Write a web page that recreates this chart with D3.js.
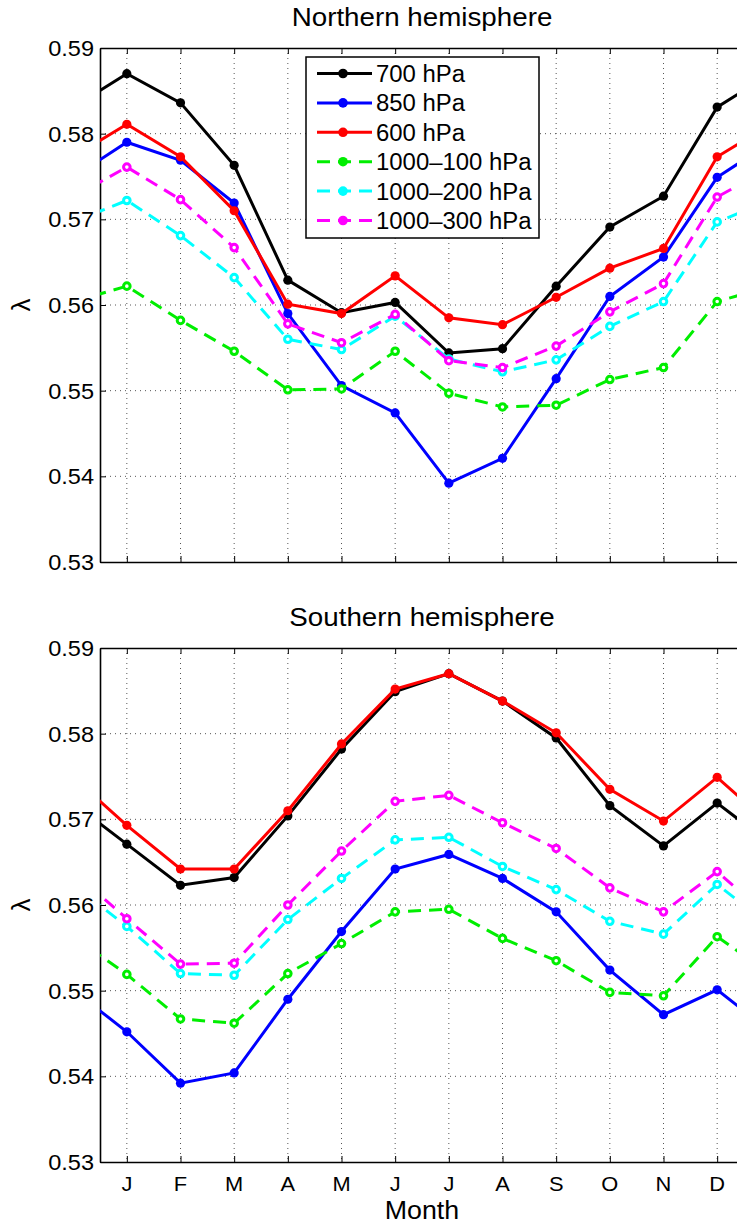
<!DOCTYPE html>
<html>
<head>
<meta charset="utf-8">
<script src="https://cdn.jsdelivr.net/npm/d3@7/dist/d3.min.js"></script>
<style>
  body { margin: 0; background: #fff; }
  svg text { font-family: "Liberation Sans", Arial, sans-serif; fill: #000; }
</style>
</head>
<body>
<div class="chart"></div>
<script>
// month labels
var months = ["J", "F", "M", "A", "M", "J", "J", "A", "S", "O", "N", "D"];
var seriesNames = ["700 hPa", "850 hPa", "600 hPa", "1000\u2013100 hPa", "1000\u2013200 hPa", "1000\u2013300 hPa"];
var yTicks = [0.53, 0.54, 0.55, 0.56, 0.57, 0.58, 0.59];

// Northern hemisphere
var north700 = [0.5870, 0.5836, 0.5763, 0.5629, 0.5591, 0.5603, 0.5544, 0.5549, 0.5622, 0.5691, 0.5727, 0.5831];
var north850 = [0.5790, 0.5769, 0.5719, 0.5590, 0.5506, 0.5474, 0.5392, 0.5421, 0.5514, 0.5610, 0.5656, 0.5749];
var north600 = [0.5811, 0.5773, 0.5710, 0.5601, 0.5590, 0.5634, 0.5585, 0.5577, 0.5609, 0.5643, 0.5666, 0.5773];
var north100 = [0.5622, 0.5582, 0.5546, 0.5501, 0.5502, 0.5546, 0.5497, 0.5481, 0.5483, 0.5513, 0.5527, 0.5604];
var north200 = [0.5722, 0.5681, 0.5632, 0.5560, 0.5548, 0.5587, 0.5537, 0.5522, 0.5536, 0.5575, 0.5604, 0.5697];
var north300 = [0.5761, 0.5723, 0.5667, 0.5578, 0.5556, 0.5589, 0.5535, 0.5527, 0.5552, 0.5592, 0.5625, 0.5726];

// Southern hemisphere
var south700 = [0.5671, 0.5623, 0.5632, 0.5704, 0.5782, 0.5849, 0.5870, 0.5838, 0.5795, 0.5716, 0.5669, 0.5719];
var south850 = [0.5452, 0.5392, 0.5404, 0.5490, 0.5569, 0.5642, 0.5659, 0.5631, 0.5592, 0.5524, 0.5472, 0.5501];
var south600 = [0.5693, 0.5642, 0.5642, 0.5710, 0.5788, 0.5852, 0.5870, 0.5838, 0.5801, 0.5735, 0.5698, 0.5749];
var south100 = [0.5519, 0.5467, 0.5462, 0.5520, 0.5555, 0.5592, 0.5595, 0.5561, 0.5535, 0.5498, 0.5494, 0.5563];
var south200 = [0.5575, 0.5520, 0.5518, 0.5583, 0.5631, 0.5676, 0.5679, 0.5645, 0.5618, 0.5581, 0.5566, 0.5624];
var south300 = [0.5584, 0.5531, 0.5532, 0.5600, 0.5663, 0.5721, 0.5728, 0.5696, 0.5666, 0.5620, 0.5592, 0.5639];

var colors = ["#000000", "#0000ff", "#ff0000", "#00ee00", "#00ffff", "#ff00ff"];
var dashed = [false, false, false, true, true, true];

var width = 737, height = 1226;

var svg = d3.select(".chart")
    .append("svg")
    .attr("width", width)
    .attr("height", height);

// text with a slight horizontal stretch, like the original figure
function addText(sel, x, y, str, size, anchor, sx) {
    return sel.append("text")
        .attr("transform", "translate(" + x + "," + y + ") scale(" + sx + ",1)")
        .attr("text-anchor", anchor)
        .style("font-size", size + "px")
        .text(str);
}

function drawPanel(id, top, title, data, showMonths, showLegend) {
    var left = 100, right = 744, bottom = top + 514;

    var x = d3.scaleLinear().domain([0.5, 12.5]).range([left, right]);
    var y = d3.scaleLinear().domain([0.53, 0.59]).range([bottom, top]);

    var g = svg.append("g").attr("class", "panel-" + id);

    g.append("clipPath")
        .attr("id", "clip-" + id)
        .append("rect")
        .attr("x", left).attr("y", top)
        .attr("width", right - left).attr("height", bottom - top);

    // grid (dotted)
    var grid = g.append("g").attr("class", "grid")
        .style("stroke", "#555")
        .style("stroke-width", 1)
        .style("stroke-dasharray", "1,4");

    grid.selectAll(".vg")
        .data(d3.range(1, 13))
        .enter().append("line")
        .attr("x1", function(d) { return x(d); })
        .attr("x2", function(d) { return x(d); })
        .attr("y1", top).attr("y2", bottom);

    grid.selectAll(".hg")
        .data(yTicks.slice(1, -1))
        .enter().append("line")
        .attr("x1", left).attr("x2", right)
        .attr("y1", function(d) { return y(d); })
        .attr("y2", function(d) { return y(d); });

    // axes with inward ticks
    var xAxisB = d3.axisBottom(x).tickValues(d3.range(1, 13)).tickSizeInner(-6).tickSizeOuter(0)
        .tickFormat("");
    var xAxisT = d3.axisTop(x).tickValues(d3.range(1, 13)).tickSizeInner(-6).tickSizeOuter(0)
        .tickFormat("");
    var yAxis = d3.axisLeft(y).tickValues(yTicks).tickSizeInner(-6).tickSizeOuter(0)
        .tickFormat("");

    g.append("g").attr("transform", "translate(0," + bottom + ")").call(xAxisB);
    g.append("g").attr("transform", "translate(0," + top + ")").call(xAxisT);
    g.append("g").attr("transform", "translate(" + left + ",0)").call(yAxis);

    g.selectAll(".domain").style("stroke", "#000").style("stroke-width", 1.6);
    g.selectAll(".tick line").style("stroke", "#000").style("stroke-width", 1);

    // y tick labels
    yTicks.forEach(function(v) {
        addText(g, 94, y(v) + 8, d3.format(".2f")(v), 22, "end", 1.07);
    });

    if (showMonths) {
        months.forEach(function(m, i) {
            addText(g, x(i + 1), bottom + 29, m, 21, "middle", 1.04);
        });
        addText(g, (left + right) / 2, bottom + 57, "Month", 26, "middle", 1.03);
    }

    // lambda label, rotated
    g.append("text")
        .attr("transform", "translate(30," + ((top + bottom) / 2) + ") rotate(-90)")
        .attr("text-anchor", "middle")
        .style("font-size", "26px")
        .text("\u03bb");

    addText(g, (left + right) / 2, top - 22, title, 25, "middle", 1.11);

    // series; line wraps from D (month 0) to J (month 13), clipped at the axes
    var line = d3.line()
        .x(function(d) { return x(d[0]); })
        .y(function(d) { return y(d[1]); });

    var plot = g.append("g").attr("clip-path", "url(#clip-" + id + ")");

    data.forEach(function(vals, k) {
        var pts = vals.map(function(v, i) { return [i + 1, v]; });
        var ext = [[0, vals[11]]].concat(pts).concat([[13, vals[0]]]);

        plot.append("path")
            .datum(ext)
            .attr("d", line)
            .style("fill", "none")
            .style("stroke", colors[k])
            .style("stroke-width", 3)
            .style("stroke-dasharray", dashed[k] ? "13,8" : null);

        plot.selectAll(".pt" + k)
            .data(pts)
            .enter().append("circle")
            .attr("cx", function(d) { return x(d[0]); })
            .attr("cy", function(d) { return y(d[1]); })
            .attr("r", dashed[k] ? 3.3 : 4.6)
            .style("fill", dashed[k] ? "#fff" : colors[k])
            .style("stroke", dashed[k] ? colors[k] : "none")
            .style("stroke-width", 3);
    });

    if (showLegend) {
        var lg = g.append("g").attr("class", "legend");
        lg.append("rect")
            .attr("x", 306).attr("y", 57)
            .attr("width", 233).attr("height", 181)
            .style("fill", "#fff")
            .style("stroke", "#000")
            .style("stroke-width", 1.5);

        seriesNames.forEach(function(name, k) {
            var ly = 73.5 + k * 29.4;
            lg.append("line")
                .attr("x1", 317).attr("x2", 372)
                .attr("y1", ly).attr("y2", ly)
                .style("stroke", colors[k])
                .style("stroke-width", 3)
                .style("stroke-dasharray", dashed[k] ? "13,8" : null);
            lg.append("circle")
                .attr("cx", 343).attr("cy", ly).attr("r", 4.8)
                .style("fill", colors[k]);
            addText(lg, 376, ly + 8.5, name, 23, "start", 1.04);
        });
    }
}

drawPanel("n", 48, "Northern hemisphere",
    [north700, north850, north600, north100, north200, north300], false, true);
drawPanel("s", 648, "Southern hemisphere",
    [south700, south850, south600, south100, south200, south300], true, false);
</script>
</body>
</html>
